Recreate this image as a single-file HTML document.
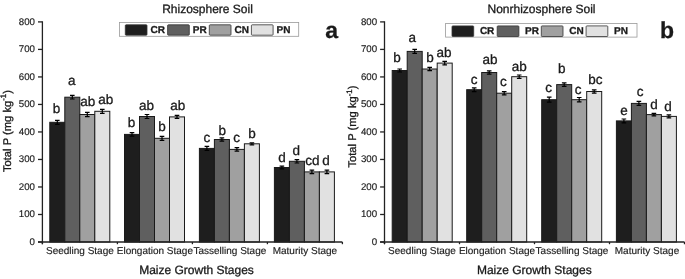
<!DOCTYPE html>
<html><head><meta charset="utf-8"><style>
html,body{margin:0;padding:0;background:#fff;width:685px;height:279px;overflow:hidden}
svg{display:block;filter:grayscale(1);text-rendering:geometricPrecision;font-family:"Liberation Sans",sans-serif;fill:#1a1a1a}
text{fill:#1a1a1a;stroke:#1a1a1a;stroke-width:0.3px}
text.t{stroke-width:0.15px}
</style></head><body>
<svg width="685" height="279" viewBox="0 0 685 279">
<rect x="49.80" y="122.30" width="15" height="119.70" fill="#1e1e1e" stroke="#1a1a1a" stroke-width="1"/>
<rect x="64.80" y="97.20" width="15" height="144.80" fill="#5f5f5f" stroke="#1a1a1a" stroke-width="1"/>
<rect x="79.80" y="114.50" width="15" height="127.50" fill="#a0a0a0" stroke="#1a1a1a" stroke-width="1"/>
<rect x="94.80" y="111.30" width="15" height="130.70" fill="#e1e1e1" stroke="#1a1a1a" stroke-width="1"/>
<rect x="124.50" y="134.40" width="15" height="107.60" fill="#1e1e1e" stroke="#1a1a1a" stroke-width="1"/>
<rect x="139.50" y="116.50" width="15" height="125.50" fill="#5f5f5f" stroke="#1a1a1a" stroke-width="1"/>
<rect x="154.50" y="138.30" width="15" height="103.70" fill="#a0a0a0" stroke="#1a1a1a" stroke-width="1"/>
<rect x="169.50" y="116.90" width="15" height="125.10" fill="#e1e1e1" stroke="#1a1a1a" stroke-width="1"/>
<rect x="199.40" y="148.40" width="15" height="93.60" fill="#1e1e1e" stroke="#1a1a1a" stroke-width="1"/>
<rect x="214.40" y="139.50" width="15" height="102.50" fill="#5f5f5f" stroke="#1a1a1a" stroke-width="1"/>
<rect x="229.40" y="149.40" width="15" height="92.60" fill="#a0a0a0" stroke="#1a1a1a" stroke-width="1"/>
<rect x="244.40" y="143.80" width="15" height="98.20" fill="#e1e1e1" stroke="#1a1a1a" stroke-width="1"/>
<rect x="274.40" y="167.50" width="15" height="74.50" fill="#1e1e1e" stroke="#1a1a1a" stroke-width="1"/>
<rect x="289.40" y="161.30" width="15" height="80.70" fill="#5f5f5f" stroke="#1a1a1a" stroke-width="1"/>
<rect x="304.40" y="171.90" width="15" height="70.10" fill="#a0a0a0" stroke="#1a1a1a" stroke-width="1"/>
<rect x="319.40" y="171.90" width="15" height="70.10" fill="#e1e1e1" stroke="#1a1a1a" stroke-width="1"/>
<path d="M55.00 120.30H59.60M57.30 120.30V124.30M55.00 124.30H59.60" stroke="#000" stroke-width="1.2" fill="none"/>
<path d="M70.00 95.40H74.60M72.30 95.40V99.00M70.00 99.00H74.60" stroke="#000" stroke-width="1.2" fill="none"/>
<path d="M85.00 112.30H89.60M87.30 112.30V116.70M85.00 116.70H89.60" stroke="#000" stroke-width="1.2" fill="none"/>
<path d="M100.00 109.30H104.60M102.30 109.30V113.30M100.00 113.30H104.60" stroke="#000" stroke-width="1.2" fill="none"/>
<path d="M129.70 132.60H134.30M132.00 132.60V136.20M129.70 136.20H134.30" stroke="#000" stroke-width="1.2" fill="none"/>
<path d="M144.70 114.50H149.30M147.00 114.50V118.50M144.70 118.50H149.30" stroke="#000" stroke-width="1.2" fill="none"/>
<path d="M159.70 136.30H164.30M162.00 136.30V140.30M159.70 140.30H164.30" stroke="#000" stroke-width="1.2" fill="none"/>
<path d="M174.70 115.40H179.30M177.00 115.40V118.40M174.70 118.40H179.30" stroke="#000" stroke-width="1.2" fill="none"/>
<path d="M204.60 146.40H209.20M206.90 146.40V150.40M204.60 150.40H209.20" stroke="#000" stroke-width="1.2" fill="none"/>
<path d="M219.60 137.80H224.20M221.90 137.80V141.20M219.60 141.20H224.20" stroke="#000" stroke-width="1.2" fill="none"/>
<path d="M234.60 147.60H239.20M236.90 147.60V151.20M234.60 151.20H239.20" stroke="#000" stroke-width="1.2" fill="none"/>
<path d="M249.60 142.80H254.20M251.90 142.80V144.80M249.60 144.80H254.20" stroke="#000" stroke-width="1.2" fill="none"/>
<path d="M279.60 166.20H284.20M281.90 166.20V168.80M279.60 168.80H284.20" stroke="#000" stroke-width="1.2" fill="none"/>
<path d="M294.60 159.60H299.20M296.90 159.60V163.00M294.60 163.00H299.20" stroke="#000" stroke-width="1.2" fill="none"/>
<path d="M309.60 170.10H314.20M311.90 170.10V173.70M309.60 173.70H314.20" stroke="#000" stroke-width="1.2" fill="none"/>
<path d="M324.60 170.20H329.20M326.90 170.20V173.60M324.60 173.60H329.20" stroke="#000" stroke-width="1.2" fill="none"/>
<text x="56.50" y="113.20" text-anchor="middle" font-size="13.5">b</text>
<text x="71.80" y="85.00" text-anchor="middle" font-size="13.5">a</text>
<text x="87.70" y="105.60" text-anchor="middle" font-size="13.5">ab</text>
<text x="105.70" y="104.30" text-anchor="middle" font-size="13.5">ab</text>
<text x="131.60" y="127.40" text-anchor="middle" font-size="13.5">b</text>
<text x="146.60" y="109.70" text-anchor="middle" font-size="13.5">ab</text>
<text x="161.90" y="131.00" text-anchor="middle" font-size="13.5">b</text>
<text x="177.70" y="109.70" text-anchor="middle" font-size="13.5">ab</text>
<text x="206.80" y="141.90" text-anchor="middle" font-size="13.5">c</text>
<text x="222.30" y="134.60" text-anchor="middle" font-size="13.5">b</text>
<text x="236.60" y="142.20" text-anchor="middle" font-size="13.5">c</text>
<text x="252.10" y="138.00" text-anchor="middle" font-size="13.5">b</text>
<text x="282.00" y="161.80" text-anchor="middle" font-size="13.5">d</text>
<text x="296.30" y="155.20" text-anchor="middle" font-size="13.5">d</text>
<text x="312.40" y="164.70" text-anchor="middle" font-size="13.5">cd</text>
<text x="326.00" y="164.70" text-anchor="middle" font-size="13.5">d</text>
<path d="M38.00 242.00H342.40" stroke="#222" stroke-width="1.3" fill="none"/>
<path d="M42.40 21.30V244.20" stroke="#222" stroke-width="1.3" fill="none"/>
<path d="M38.00 242.00H42.40" stroke="#222" stroke-width="1.3"/>
<text x="35.00" y="245.00" text-anchor="end" font-size="9.7" class="t">0</text>
<path d="M38.00 214.49H42.40" stroke="#222" stroke-width="1.3"/>
<text x="35.00" y="217.49" text-anchor="end" font-size="9.7" class="t">100</text>
<path d="M38.00 186.97H42.40" stroke="#222" stroke-width="1.3"/>
<text x="35.00" y="189.97" text-anchor="end" font-size="9.7" class="t">200</text>
<path d="M38.00 159.46H42.40" stroke="#222" stroke-width="1.3"/>
<text x="35.00" y="162.46" text-anchor="end" font-size="9.7" class="t">300</text>
<path d="M38.00 131.95H42.40" stroke="#222" stroke-width="1.3"/>
<text x="35.00" y="134.95" text-anchor="end" font-size="9.7" class="t">400</text>
<path d="M38.00 104.44H42.40" stroke="#222" stroke-width="1.3"/>
<text x="35.00" y="107.44" text-anchor="end" font-size="9.7" class="t">500</text>
<path d="M38.00 76.93H42.40" stroke="#222" stroke-width="1.3"/>
<text x="35.00" y="79.93" text-anchor="end" font-size="9.7" class="t">600</text>
<path d="M38.00 49.41H42.40" stroke="#222" stroke-width="1.3"/>
<text x="35.00" y="52.41" text-anchor="end" font-size="9.7" class="t">700</text>
<path d="M38.00 21.90H42.40" stroke="#222" stroke-width="1.3"/>
<text x="35.00" y="24.90" text-anchor="end" font-size="9.7" class="t">800</text>
<path d="M42.40 242.00V244.20" stroke="#222" stroke-width="1.3"/>
<path d="M117.40 242.00V244.20" stroke="#222" stroke-width="1.3"/>
<path d="M192.40 242.00V244.20" stroke="#222" stroke-width="1.3"/>
<path d="M267.40 242.00V244.20" stroke="#222" stroke-width="1.3"/>
<path d="M342.40 242.00V244.20" stroke="#222" stroke-width="1.3"/>
<text x="79.90" y="254.2" text-anchor="middle" font-size="10" class="t">Seedling Stage</text>
<text x="154.90" y="254.2" text-anchor="middle" font-size="10" class="t">Elongation Stage</text>
<text x="229.90" y="254.2" text-anchor="middle" font-size="10" class="t">Tasselling Stage</text>
<text x="304.90" y="254.2" text-anchor="middle" font-size="10" class="t">Maturity Stage</text>
<text x="196.50" y="274.4" text-anchor="middle" font-size="12">Maize Growth Stages</text>
<text transform="translate(10.50,172.10) rotate(-90)" font-size="11.2">Total P (mg kg<tspan dy="-4.6" font-size="8">-1</tspan><tspan dy="4.6">)</tspan></text>
<text x="207.50" y="12.8" text-anchor="middle" font-size="12">Rhizosphere Soil</text>
<text x="331.60" y="38.3" text-anchor="middle" font-size="23" font-weight="bold">a</text>
<rect x="119.40" y="22.40" width="179.30" height="13.90" fill="#fff" stroke="#999" stroke-width="0.8"/>
<rect x="125.30" y="24.80" width="21.7" height="10.40" fill="#1e1e1e" stroke="#333" stroke-width="0.8" rx="0.8"/>
<text x="150.50" y="33.30" font-size="10" font-weight="bold" stroke="#1a1a1a" stroke-width="0.25">CR</text>
<rect x="167.60" y="24.80" width="21.7" height="10.40" fill="#5f5f5f" stroke="#333" stroke-width="0.8" rx="0.8"/>
<text x="192.80" y="33.30" font-size="10" font-weight="bold" stroke="#1a1a1a" stroke-width="0.25">PR</text>
<rect x="209.30" y="24.80" width="21.7" height="10.40" fill="#a0a0a0" stroke="#333" stroke-width="0.8" rx="0.8"/>
<text x="234.50" y="33.30" font-size="10" font-weight="bold" stroke="#1a1a1a" stroke-width="0.25">CN</text>
<rect x="251.40" y="24.80" width="21.7" height="10.40" fill="#e1e1e1" stroke="#333" stroke-width="0.8" rx="0.8"/>
<text x="276.60" y="33.30" font-size="10" font-weight="bold" stroke="#1a1a1a" stroke-width="0.25">PN</text>
<rect x="392.20" y="70.50" width="15" height="171.50" fill="#1e1e1e" stroke="#1a1a1a" stroke-width="1"/>
<rect x="407.20" y="51.40" width="15" height="190.60" fill="#5f5f5f" stroke="#1a1a1a" stroke-width="1"/>
<rect x="422.20" y="69.00" width="15" height="173.00" fill="#a0a0a0" stroke="#1a1a1a" stroke-width="1"/>
<rect x="437.20" y="63.10" width="15" height="178.90" fill="#e1e1e1" stroke="#1a1a1a" stroke-width="1"/>
<rect x="466.70" y="89.70" width="15" height="152.30" fill="#1e1e1e" stroke="#1a1a1a" stroke-width="1"/>
<rect x="481.70" y="72.50" width="15" height="169.50" fill="#5f5f5f" stroke="#1a1a1a" stroke-width="1"/>
<rect x="496.70" y="93.20" width="15" height="148.80" fill="#a0a0a0" stroke="#1a1a1a" stroke-width="1"/>
<rect x="511.70" y="76.70" width="15" height="165.30" fill="#e1e1e1" stroke="#1a1a1a" stroke-width="1"/>
<rect x="541.70" y="99.70" width="15" height="142.30" fill="#1e1e1e" stroke="#1a1a1a" stroke-width="1"/>
<rect x="556.70" y="84.60" width="15" height="157.40" fill="#5f5f5f" stroke="#1a1a1a" stroke-width="1"/>
<rect x="571.70" y="99.70" width="15" height="142.30" fill="#a0a0a0" stroke="#1a1a1a" stroke-width="1"/>
<rect x="586.70" y="91.50" width="15" height="150.50" fill="#e1e1e1" stroke="#1a1a1a" stroke-width="1"/>
<rect x="616.40" y="120.90" width="15" height="121.10" fill="#1e1e1e" stroke="#1a1a1a" stroke-width="1"/>
<rect x="631.40" y="103.40" width="15" height="138.60" fill="#5f5f5f" stroke="#1a1a1a" stroke-width="1"/>
<rect x="646.40" y="114.60" width="15" height="127.40" fill="#a0a0a0" stroke="#1a1a1a" stroke-width="1"/>
<rect x="661.40" y="116.40" width="15" height="125.60" fill="#e1e1e1" stroke="#1a1a1a" stroke-width="1"/>
<path d="M397.40 69.00H402.00M399.70 69.00V72.00M397.40 72.00H402.00" stroke="#000" stroke-width="1.2" fill="none"/>
<path d="M412.40 49.40H417.00M414.70 49.40V53.40M412.40 53.40H417.00" stroke="#000" stroke-width="1.2" fill="none"/>
<path d="M427.40 67.30H432.00M429.70 67.30V70.70M427.40 70.70H432.00" stroke="#000" stroke-width="1.2" fill="none"/>
<path d="M442.40 61.40H447.00M444.70 61.40V64.80M442.40 64.80H447.00" stroke="#000" stroke-width="1.2" fill="none"/>
<path d="M471.90 87.80H476.50M474.20 87.80V91.60M471.90 91.60H476.50" stroke="#000" stroke-width="1.2" fill="none"/>
<path d="M486.90 70.80H491.50M489.20 70.80V74.20M486.90 74.20H491.50" stroke="#000" stroke-width="1.2" fill="none"/>
<path d="M501.90 91.60H506.50M504.20 91.60V94.80M501.90 94.80H506.50" stroke="#000" stroke-width="1.2" fill="none"/>
<path d="M516.90 75.00H521.50M519.20 75.00V78.40M516.90 78.40H521.50" stroke="#000" stroke-width="1.2" fill="none"/>
<path d="M546.90 97.20H551.50M549.20 97.20V102.20M546.90 102.20H551.50" stroke="#000" stroke-width="1.2" fill="none"/>
<path d="M561.90 82.90H566.50M564.20 82.90V86.30M561.90 86.30H566.50" stroke="#000" stroke-width="1.2" fill="none"/>
<path d="M576.90 97.50H581.50M579.20 97.50V101.90M576.90 101.90H581.50" stroke="#000" stroke-width="1.2" fill="none"/>
<path d="M591.90 89.90H596.50M594.20 89.90V93.10M591.90 93.10H596.50" stroke="#000" stroke-width="1.2" fill="none"/>
<path d="M621.60 119.00H626.20M623.90 119.00V122.80M621.60 122.80H626.20" stroke="#000" stroke-width="1.2" fill="none"/>
<path d="M636.60 101.40H641.20M638.90 101.40V105.40M636.60 105.40H641.20" stroke="#000" stroke-width="1.2" fill="none"/>
<path d="M651.60 113.40H656.20M653.90 113.40V115.80M651.60 115.80H656.20" stroke="#000" stroke-width="1.2" fill="none"/>
<path d="M666.60 114.90H671.20M668.90 114.90V117.90M666.60 117.90H671.20" stroke="#000" stroke-width="1.2" fill="none"/>
<text x="397.10" y="61.60" text-anchor="middle" font-size="13.5">b</text>
<text x="412.20" y="41.60" text-anchor="middle" font-size="13.5">a</text>
<text x="430.00" y="61.60" text-anchor="middle" font-size="13.5">b</text>
<text x="444.00" y="57.00" text-anchor="middle" font-size="13.5">ab</text>
<text x="474.10" y="83.90" text-anchor="middle" font-size="13.5">c</text>
<text x="490.00" y="64.00" text-anchor="middle" font-size="13.5">ab</text>
<text x="503.30" y="85.90" text-anchor="middle" font-size="13.5">c</text>
<text x="519.30" y="70.50" text-anchor="middle" font-size="13.5">ab</text>
<text x="548.50" y="91.80" text-anchor="middle" font-size="13.5">c</text>
<text x="561.80" y="72.50" text-anchor="middle" font-size="13.5">b</text>
<text x="578.00" y="94.00" text-anchor="middle" font-size="13.5">c</text>
<text x="595.40" y="83.80" text-anchor="middle" font-size="13.5">bc</text>
<text x="624.00" y="115.10" text-anchor="middle" font-size="13.5">e</text>
<text x="640.00" y="95.50" text-anchor="middle" font-size="13.5">c</text>
<text x="654.00" y="108.80" text-anchor="middle" font-size="13.5">d</text>
<text x="668.00" y="110.70" text-anchor="middle" font-size="13.5">d</text>
<path d="M380.10 242.00H684.50" stroke="#222" stroke-width="1.3" fill="none"/>
<path d="M384.50 21.30V244.20" stroke="#222" stroke-width="1.3" fill="none"/>
<path d="M380.10 242.00H384.50" stroke="#222" stroke-width="1.3"/>
<text x="377.10" y="245.00" text-anchor="end" font-size="9.7" class="t">0</text>
<path d="M380.10 214.49H384.50" stroke="#222" stroke-width="1.3"/>
<text x="377.10" y="217.49" text-anchor="end" font-size="9.7" class="t">100</text>
<path d="M380.10 186.97H384.50" stroke="#222" stroke-width="1.3"/>
<text x="377.10" y="189.97" text-anchor="end" font-size="9.7" class="t">200</text>
<path d="M380.10 159.46H384.50" stroke="#222" stroke-width="1.3"/>
<text x="377.10" y="162.46" text-anchor="end" font-size="9.7" class="t">300</text>
<path d="M380.10 131.95H384.50" stroke="#222" stroke-width="1.3"/>
<text x="377.10" y="134.95" text-anchor="end" font-size="9.7" class="t">400</text>
<path d="M380.10 104.44H384.50" stroke="#222" stroke-width="1.3"/>
<text x="377.10" y="107.44" text-anchor="end" font-size="9.7" class="t">500</text>
<path d="M380.10 76.93H384.50" stroke="#222" stroke-width="1.3"/>
<text x="377.10" y="79.93" text-anchor="end" font-size="9.7" class="t">600</text>
<path d="M380.10 49.41H384.50" stroke="#222" stroke-width="1.3"/>
<text x="377.10" y="52.41" text-anchor="end" font-size="9.7" class="t">700</text>
<path d="M380.10 21.90H384.50" stroke="#222" stroke-width="1.3"/>
<text x="377.10" y="24.90" text-anchor="end" font-size="9.7" class="t">800</text>
<path d="M384.50 242.00V244.20" stroke="#222" stroke-width="1.3"/>
<path d="M459.50 242.00V244.20" stroke="#222" stroke-width="1.3"/>
<path d="M534.50 242.00V244.20" stroke="#222" stroke-width="1.3"/>
<path d="M609.50 242.00V244.20" stroke="#222" stroke-width="1.3"/>
<path d="M684.50 242.00V244.20" stroke="#222" stroke-width="1.3"/>
<text x="422.00" y="254.2" text-anchor="middle" font-size="10" class="t">Seedling Stage</text>
<text x="497.00" y="254.2" text-anchor="middle" font-size="10" class="t">Elongation Stage</text>
<text x="572.00" y="254.2" text-anchor="middle" font-size="10" class="t">Tasselling Stage</text>
<text x="647.00" y="254.2" text-anchor="middle" font-size="10" class="t">Maturity Stage</text>
<text x="534.30" y="274.4" text-anchor="middle" font-size="12">Maize Growth Stages</text>
<text transform="translate(356.40,167.60) rotate(-90)" font-size="11.2">Total P (mg kg<tspan dy="-4.6" font-size="8">-1</tspan><tspan dy="4.6">)</tspan></text>
<text x="541.50" y="12.8" text-anchor="middle" font-size="12">Nonrhizosphere Soil</text>
<text x="667.10" y="38.3" text-anchor="middle" font-size="23" font-weight="bold">b</text>
<rect x="445.60" y="23.40" width="191.40" height="13.70" fill="#fff" stroke="#999" stroke-width="0.8"/>
<rect x="452.00" y="25.90" width="21.7" height="10.60" fill="#1e1e1e" stroke="#333" stroke-width="0.8" rx="0.8"/>
<text x="479.90" y="34.30" font-size="10" font-weight="bold" stroke="#1a1a1a" stroke-width="0.25">CR</text>
<rect x="497.20" y="25.90" width="21.7" height="10.60" fill="#5f5f5f" stroke="#333" stroke-width="0.8" rx="0.8"/>
<text x="525.10" y="34.30" font-size="10" font-weight="bold" stroke="#1a1a1a" stroke-width="0.25">PR</text>
<rect x="541.30" y="25.90" width="21.7" height="10.60" fill="#a0a0a0" stroke="#333" stroke-width="0.8" rx="0.8"/>
<text x="569.20" y="34.30" font-size="10" font-weight="bold" stroke="#1a1a1a" stroke-width="0.25">CN</text>
<rect x="586.10" y="25.90" width="21.7" height="10.60" fill="#e1e1e1" stroke="#333" stroke-width="0.8" rx="0.8"/>
<text x="614.00" y="34.30" font-size="10" font-weight="bold" stroke="#1a1a1a" stroke-width="0.25">PN</text>
</svg>
</body></html>
